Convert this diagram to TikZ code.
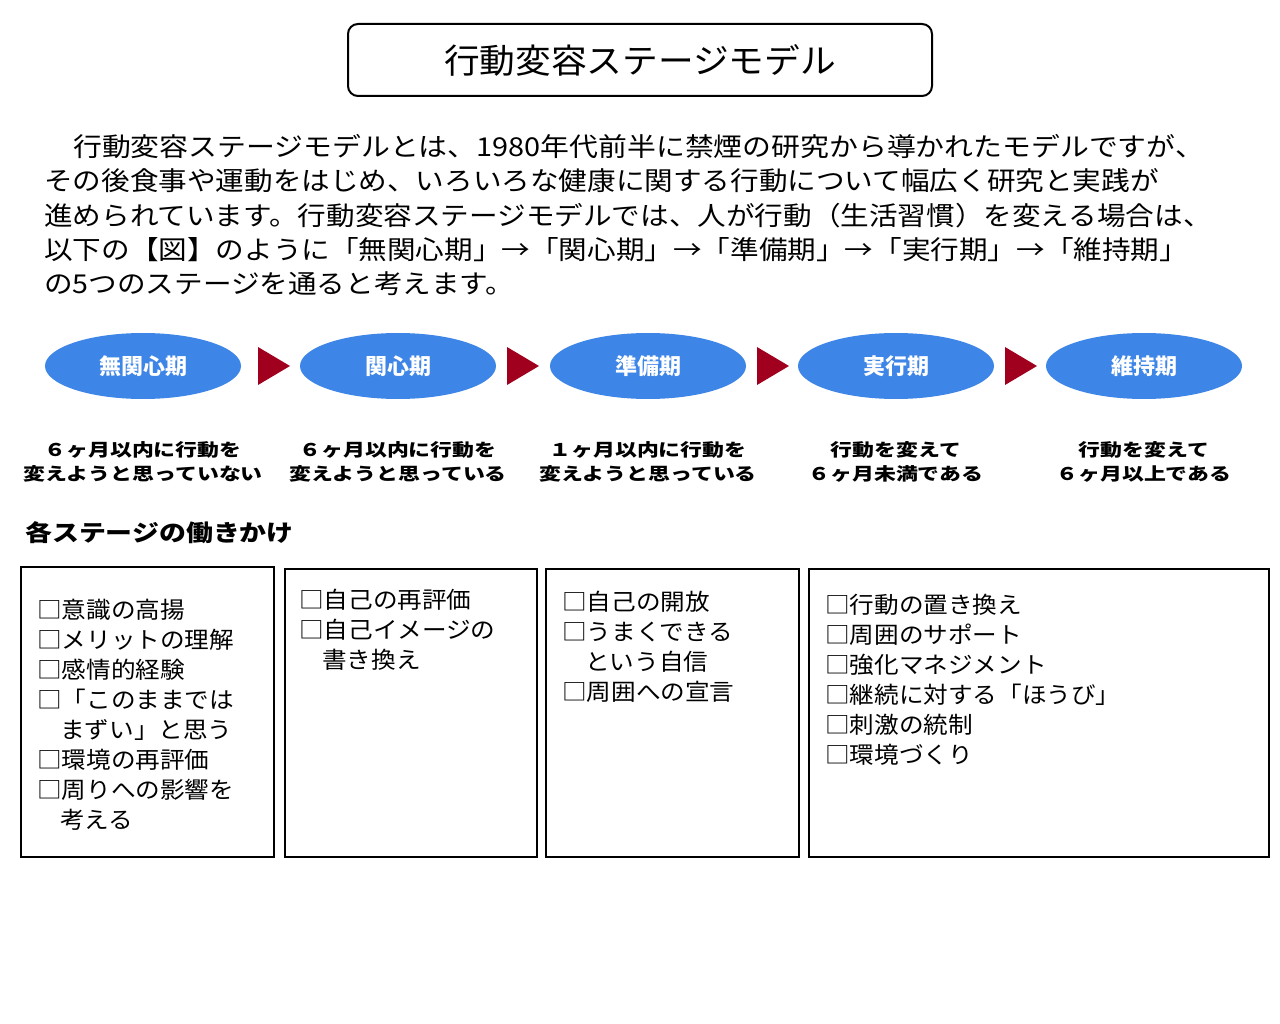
\documentclass[tikz,border=0pt]{standalone}
\usepackage{fontspec}
\usepackage{graphicx}
\usetikzlibrary{shapes.geometric}
\setmainfont{Noto Sans CJK JP}
\definecolor{ovblue}{HTML}{3D85E6}
\definecolor{arred}{HTML}{A0001E}
\newcommand{\wx}[2]{\scalebox{#1}[1]{#2}}
\begin{document}
\begin{tikzpicture}[x=1pt,y=-1pt,
  ov/.style={ellipse,fill=ovblue,minimum width=196pt,minimum height=66pt,text=white,font=\fontsize{22}{24}\selectfont\bfseries},
  tri/.style={fill=arred,draw=none},
  desc/.style={align=center,font=\fontsize{17.5}{24}\selectfont\bfseries},
  box/.style={draw=black,line width=2.5pt},
  btxt/.style={anchor=north west,align=left,font=\fontsize{23}{30}\selectfont,inner sep=0pt},
  para/.style={anchor=west,inner sep=0pt,font=\fontsize{26}{30}\selectfont}]
\useasboundingbox (0,0) rectangle (1280,1024);
\node[draw,rounded corners=10pt,line width=2pt,minimum width=584pt,minimum height=72pt,font=\fontsize{34}{36}\selectfont] (title) at (640,60) {\wx{1.05}{行動変容ステージモデル}};
\node[para] (p1) at (73,147) {\wx{1.11}{行動変容ステージモデルとは、1980年代前半に禁煙の研究から導かれたモデルですが、}};
\node[para] (p2) at (44,181) {\wx{1.1}{その後食事や運動をはじめ、いろいろな健康に関する行動について幅広く研究と実践が}};
\node[para] (p3) at (44,216) {\wx{1.1}{進められています。行動変容ステージモデルでは、人が行動（生活習慣）を変える場合は、}};
\node[para] (p4) at (44,250) {\wx{1.1}{以下の【図】のように「無関心期」→「関心期」→「準備期」→「実行期」→「維持期」}};
\node[para] (p5) at (44,284) {\wx{1.1}{の5つのステージを通ると考えます。}};
\foreach \n/\x/\t in {a/143/無関心期,b/398/関心期,c/648/準備期,d/896/実行期,e/1144/維持期}
  \node[ov] (\n) at (\x,366) {\t};
\foreach \x in {258,507,757,1005}
  \fill[tri] (\x,347) -- (\x+32,366) -- (\x,385) -- cycle;
\node[desc] (da) at (143,462) {\wx{1.25}{６ヶ月以内に行動を}\\\wx{1.25}{変えようと思っていない}};
\node[desc] (db) at (398,462) {\wx{1.25}{６ヶ月以内に行動を}\\\wx{1.25}{変えようと思っている}};
\node[desc] (dc) at (648,462) {\wx{1.25}{１ヶ月以内に行動を}\\\wx{1.25}{変えようと思っている}};
\node[desc] (dd) at (896,462) {\wx{1.25}{行動を変えて}\\\wx{1.25}{６ヶ月未満である}};
\node[desc] (de) at (1144,462) {\wx{1.25}{行動を変えて}\\\wx{1.25}{６ヶ月以上である}};
\node[anchor=west,inner sep=0pt,font=\fontsize{23}{26}\selectfont\bfseries] (h) at (25,533) {\wx{1.17}{各ステージの働きかけ}};
\draw[box] (21,567) rectangle (274,857);
\draw[box] (285,569) rectangle (537,857);
\draw[box] (546,569) rectangle (799,857);
\draw[box] (809,569) rectangle (1269,857);
\node[btxt] (t1) at (37,599) {\wx{1.07}{□意識の高揚}\\\wx{1.07}{□メリットの理解}\\\wx{1.07}{□感情的経験}\\\wx{1.07}{□「このままでは}\\\hspace*{23pt}\wx{1.07}{まずい」と思う}\\\wx{1.07}{□環境の再評価}\\\wx{1.07}{□周りへの影響を}\\\hspace*{23pt}\wx{1.07}{考える}};
\node[btxt] (t2) at (299,589) {\wx{1.07}{□自己の再評価}\\\wx{1.07}{□自己イメージの}\\\hspace*{23pt}\wx{1.07}{書き換え}};
\node[btxt] (t3) at (562,591) {\wx{1.07}{□自己の開放}\\\wx{1.07}{□うまくできる}\\\hspace*{23pt}\wx{1.07}{という自信}\\\wx{1.07}{□周囲への宣言}};
\node[btxt] (t4) at (825,594) {\wx{1.07}{□行動の置き換え}\\\wx{1.07}{□周囲のサポート}\\\wx{1.07}{□強化マネジメント}\\\wx{1.07}{□継続に対する「ほうび」}\\\wx{1.07}{□刺激の統制}\\\wx{1.07}{□環境づくり}};
\end{tikzpicture}
\end{document}
